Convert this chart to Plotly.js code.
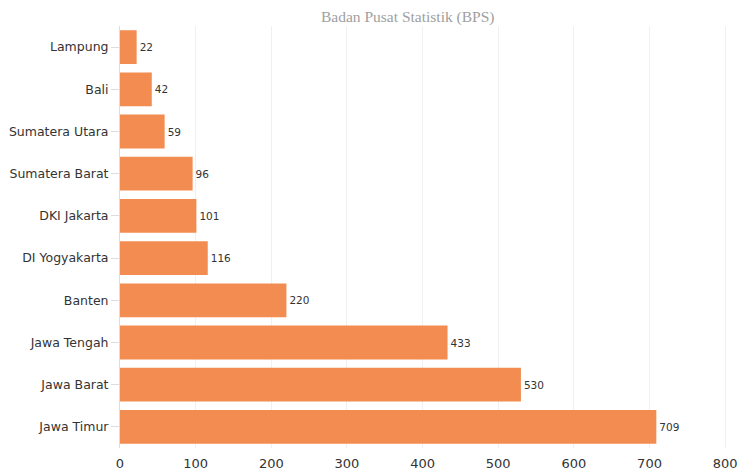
<!DOCTYPE html>
<html><head><meta charset="utf-8">
<script src="https://cdn.plot.ly/plotly-3.0.1.min.js"></script>
<style>body{margin:0;background:#fff}#c{width:740px;height:470px}</style>
</head><body><div id="c"></div>
<script>
var provinces = ["Jawa Timur","Jawa Barat","Jawa Tengah","Banten","DI Yogyakarta","DKI Jakarta","Sumatera Barat","Sumatera Utara","Bali","Lampung"];
var values = [709,530,433,220,116,101,96,59,42,22];
var xTicks = [0,100,200,300,400,500,600,700,800];

Plotly.newPlot('c', [{
  type:'bar', orientation:'h', x: values, y: provinces,
  marker:{color:'#F28C50'},
  text: values.map(String), textposition:'outside', cliponaxis:false,
  textfont:{family:'DejaVu Sans', size:10.5, color:'#333'},
  hoverinfo:'none'
}], {
  width:740, height:470,
  margin:{l:120, r:5, t:26, b:22},
  paper_bgcolor:'#fff', plot_bgcolor:'#fff',
  bargap:0.2,
  title:{text:'Badan Pusat Statistik (BPS)', font:{family:'Liberation Serif', size:15.5, color:'#a0a0a0'}, xref:'container', x:0.551, y:0.965, yanchor:'middle'},
  xaxis:{range:[0,813], tickvals:xTicks, ticktext:xTicks.map(String), showgrid:true, gridcolor:'#f0f0f0', zeroline:false, showline:false,
    ticklabelstandoff:6,
    tickfont:{family:'DejaVu Sans', size:13, color:'#333'}, fixedrange:true},
  yaxis:{showgrid:false, showline:true, linecolor:'#ddd', ticks:'outside', ticklen:8, tickcolor:'#ddd', zeroline:false,
    tickfont:{family:'DejaVu Sans', size:12.5, color:'#333'}, automargin:false},
  showlegend:false
}, {staticPlot:true});
</script></body></html>
